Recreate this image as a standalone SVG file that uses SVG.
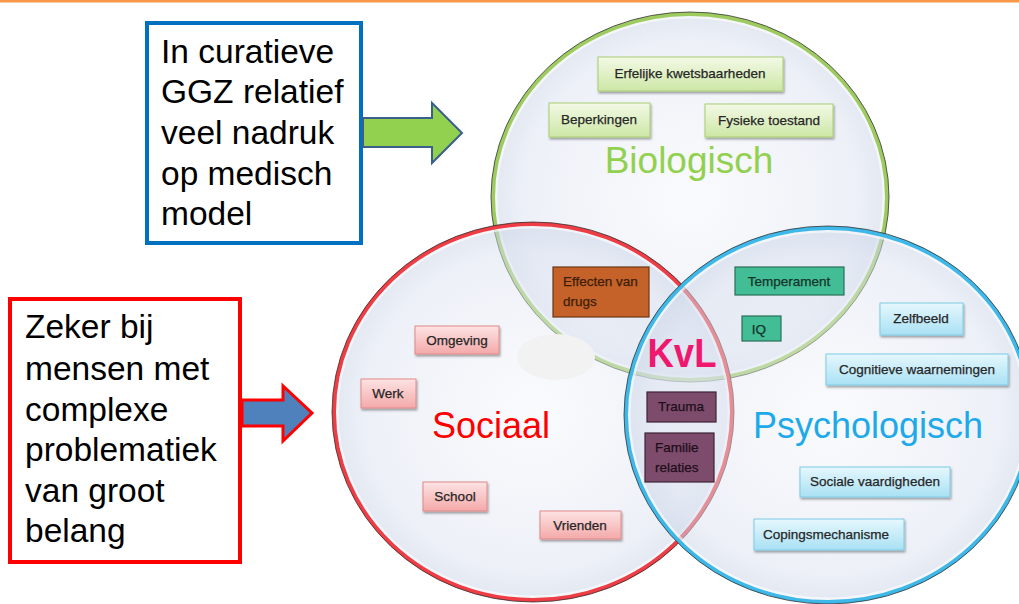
<svg xmlns="http://www.w3.org/2000/svg" width="1019" height="604" viewBox="0 0 1019 604">
<defs>
  <radialGradient id="cfill" cx="50%" cy="50%" r="50%">
    <stop offset="0%" stop-color="#F2F4FA" stop-opacity="0.4"/>
    <stop offset="85%" stop-color="#DAE1EF" stop-opacity="0.5"/>
    <stop offset="100%" stop-color="#C9D3E6" stop-opacity="0.55"/>
  </radialGradient>
  <linearGradient id="gGreen" x1="0" y1="0" x2="0" y2="1">
    <stop offset="0%" stop-color="#F3F9E6"/>
    <stop offset="100%" stop-color="#CDE7A6"/>
  </linearGradient>
  <linearGradient id="gRed" x1="0" y1="0" x2="0" y2="1">
    <stop offset="0%" stop-color="#FDE3E3"/>
    <stop offset="100%" stop-color="#F4A9A9"/>
  </linearGradient>
  <linearGradient id="gBlue" x1="0" y1="0" x2="0" y2="1">
    <stop offset="0%" stop-color="#E6F7FD"/>
    <stop offset="100%" stop-color="#A9E1F4"/>
  </linearGradient>
  <filter id="sh" x="-20%" y="-20%" width="140%" height="150%">
    <feDropShadow dx="1" dy="2" stdDeviation="1.2" flood-color="#000" flood-opacity="0.35"/>
  </filter>
  <style>
    .big { font-family: "Liberation Sans", Arial, sans-serif; font-size: 33.5px; fill: #000; }
    .lbl { font-family: "Liberation Sans", Arial, sans-serif; font-size: 13.5px; fill: #262626; text-anchor: middle; stroke: #262626; stroke-width: 0.25; }
    .lblL { font-family: "Liberation Sans", Arial, sans-serif; font-size: 13.5px; text-anchor: start; stroke-width: 0.25; }
    .title { font-family: "Liberation Sans", Arial, sans-serif; font-size: 36px; text-anchor: middle; }
    .bx-g { fill: url(#gGreen); stroke: #A9CD72; stroke-width: 1; filter: url(#sh); }
    .bx-r { fill: url(#gRed); stroke: #E08A8A; stroke-width: 1; filter: url(#sh); }
    .bx-b { fill: url(#gBlue); stroke: #7FCBE6; stroke-width: 1; filter: url(#sh); }
    .bx-t { fill: #42BD95; stroke: #2A6E57; stroke-width: 1.2; }
    .bx-p { fill: #7D4C6C; stroke: #3E2236; stroke-width: 1.2; }
    .bx-o { fill: #C4622A; stroke: #6E3614; stroke-width: 1.2; }
    .cfill { fill: url(#cfill); }
    .edge { fill: none; stroke: #2A2A2A; stroke-width: 1; stroke-opacity: 0.75; }
    .glow { fill: none; stroke: #FFFFFF; stroke-width: 3; stroke-opacity: 0.6; }
  </style>
</defs>

<rect x="0" y="0" width="1019" height="604" fill="#FFFFFF"/>
<rect x="0" y="0" width="1019" height="2.5" fill="#F79646"/>

<!-- circles -->
<g id="circles">
  <g id="circle-biologisch">
    <ellipse cx="690" cy="197" rx="198" ry="184" class="cfill"/>
    <ellipse cx="690" cy="197" rx="194" ry="180" class="glow"/>
    <ellipse cx="690" cy="197" rx="197" ry="183" fill="none" stroke="#9DCB5F" stroke-width="4"/>
    <ellipse cx="690" cy="197" rx="199" ry="185" class="edge"/>
  </g>
  <g id="circle-sociaal">
    <ellipse cx="533" cy="412" rx="200" ry="189" class="cfill"/>
    <ellipse cx="533" cy="412" rx="196" ry="185" class="glow"/>
    <ellipse cx="533" cy="412" rx="199" ry="188" fill="none" stroke="#EE3D45" stroke-width="4"/>
    <ellipse cx="533" cy="412" rx="201" ry="190" class="edge"/>
  </g>
  <g id="circle-psychologisch">
    <ellipse cx="828" cy="415" rx="203" ry="188" class="cfill"/>
    <ellipse cx="828" cy="415" rx="199" ry="184" class="glow"/>
    <ellipse cx="828" cy="415" rx="202" ry="187" fill="none" stroke="#3DB8E8" stroke-width="4"/>
    <ellipse cx="828" cy="415" rx="204" ry="189" class="edge"/>
  </g>
</g>

<!-- left callouts -->
<g id="note-ggz">
  <rect x="147" y="23" width="214" height="220" fill="#FFFFFF" stroke="#0070C0" stroke-width="4"/>
  <text class="big" x="161" y="63">In curatieve</text>
  <text class="big" x="161" y="103">GGZ relatief</text>
  <text class="big" x="161" y="144">veel nadruk</text>
  <text class="big" x="161" y="185">op medisch</text>
  <text class="big" x="161" y="225">model</text>
</g>
<g id="note-complex">
  <rect x="10" y="299" width="230" height="263" fill="#FFFFFF" stroke="#FF0000" stroke-width="4"/>
  <text class="big" x="25" y="338">Zeker bij</text>
  <text class="big" x="25" y="380">mensen met</text>
  <text class="big" x="25" y="421">complexe</text>
  <text class="big" x="25" y="461">problematiek</text>
  <text class="big" x="25" y="502">van groot</text>
  <text class="big" x="25" y="542">belang</text>
</g>

<!-- connectors -->
<g id="connectors">
  <polygon points="363,118 432,118 432,103 462,133 432,163 432,147 363,147" fill="#92D050" stroke="#3A5F8A" stroke-width="2" stroke-linejoin="miter"/>
  <polygon points="242,400 283,400 283,386 312,413 283,441 283,426 242,426" fill="#4F81BD" stroke="#FF0000" stroke-width="3" stroke-linejoin="miter"/>
</g>

<!-- Biologisch items -->
<g id="node-erfelijke"><rect x="598" y="57" width="185" height="34" class="bx-g"/><text class="lbl" x="690" y="78">Erfelijke kwetsbaarheden</text></g>
<g id="node-beperkingen"><rect x="549" y="103" width="101" height="34" class="bx-g"/><text class="lbl" x="599" y="124">Beperkingen</text></g>
<g id="node-fysieke"><rect x="705" y="104" width="128" height="33" class="bx-g"/><text class="lbl" x="769" y="125">Fysieke toestand</text></g>
<g id="label-biologisch"><text class="title" x="689" y="173" fill="#92D050" style="font-size:37px">Biologisch</text></g>

<!-- Sociaal items -->
<g id="node-omgeving"><rect x="415" y="326" width="84" height="28" class="bx-r"/><text class="lbl" x="457" y="345">Omgeving</text></g>
<g id="node-werk"><rect x="361" y="379" width="55" height="29" class="bx-r"/><text class="lbl" x="388" y="398">Werk</text></g>
<g id="node-school"><rect x="423" y="482" width="64" height="29" class="bx-r"/><text class="lbl" x="455" y="501">School</text></g>
<g id="node-vrienden"><rect x="540" y="511" width="81" height="28" class="bx-r"/><text class="lbl" x="580" y="530">Vrienden</text></g>
<g id="blank-ellipse"><ellipse cx="556" cy="357" rx="39" ry="23" fill="#F2F2F2"/></g>
<g id="label-sociaal"><text class="title" x="491" y="438" fill="#FF0000">Sociaal</text></g>

<!-- overlaps -->
<g id="node-effecten"><rect x="553" y="267" width="96" height="50" class="bx-o"/><text class="lblL" x="563" y="286" fill="#3E1E06" stroke="#3E1E06">Effecten van</text><text class="lblL" x="563" y="306" fill="#3E1E06" stroke="#3E1E06">drugs</text></g>
<g id="node-temperament"><rect x="735" y="267" width="109" height="28" class="bx-t"/><text class="lbl" x="789" y="286" style="fill:#16332A;stroke:#16332A">Temperament</text></g>
<g id="node-iq"><rect x="742" y="316" width="39" height="25" class="bx-t"/><text class="lbl" x="759" y="334" style="fill:#16332A;stroke:#16332A">IQ</text></g>
<g id="node-trauma"><rect x="647" y="392" width="69" height="30" class="bx-p"/><text class="lbl" x="681" y="411" style="fill:#1E0E1A;stroke:#1E0E1A">Trauma</text></g>
<g id="node-familie"><rect x="645" y="433" width="69" height="49" class="bx-p"/><text class="lblL" x="655" y="452" fill="#1E0E1A" stroke="#1E0E1A">Familie</text><text class="lblL" x="655" y="472" fill="#1E0E1A" stroke="#1E0E1A">relaties</text></g>
<g id="label-kvl"><text x="682" y="367" text-anchor="middle" font-family="'Liberation Sans', Arial, sans-serif" font-size="40" font-weight="bold" fill="#F0186E" textLength="69" lengthAdjust="spacingAndGlyphs">KvL</text></g>

<!-- Psychologisch items -->
<g id="node-zelfbeeld"><rect x="880" y="303" width="83" height="32" class="bx-b"/><text class="lbl" x="921" y="323">Zelfbeeld</text></g>
<g id="node-cognitieve"><rect x="826" y="354" width="182" height="31" class="bx-b"/><text class="lbl" x="917" y="374">Cognitieve waarnemingen</text></g>
<g id="node-sociale"><rect x="800" y="467" width="150" height="30" class="bx-b"/><text class="lbl" x="875" y="486">Sociale vaardigheden</text></g>
<g id="node-coping"><rect x="754" y="519" width="150" height="31" class="bx-b"/><text class="lbl" x="826" y="539">Copingsmechanisme</text></g>
<g id="label-psychologisch"><text class="title" x="868" y="438" fill="#1EAAE8">Psychologisch</text></g>
</svg>
